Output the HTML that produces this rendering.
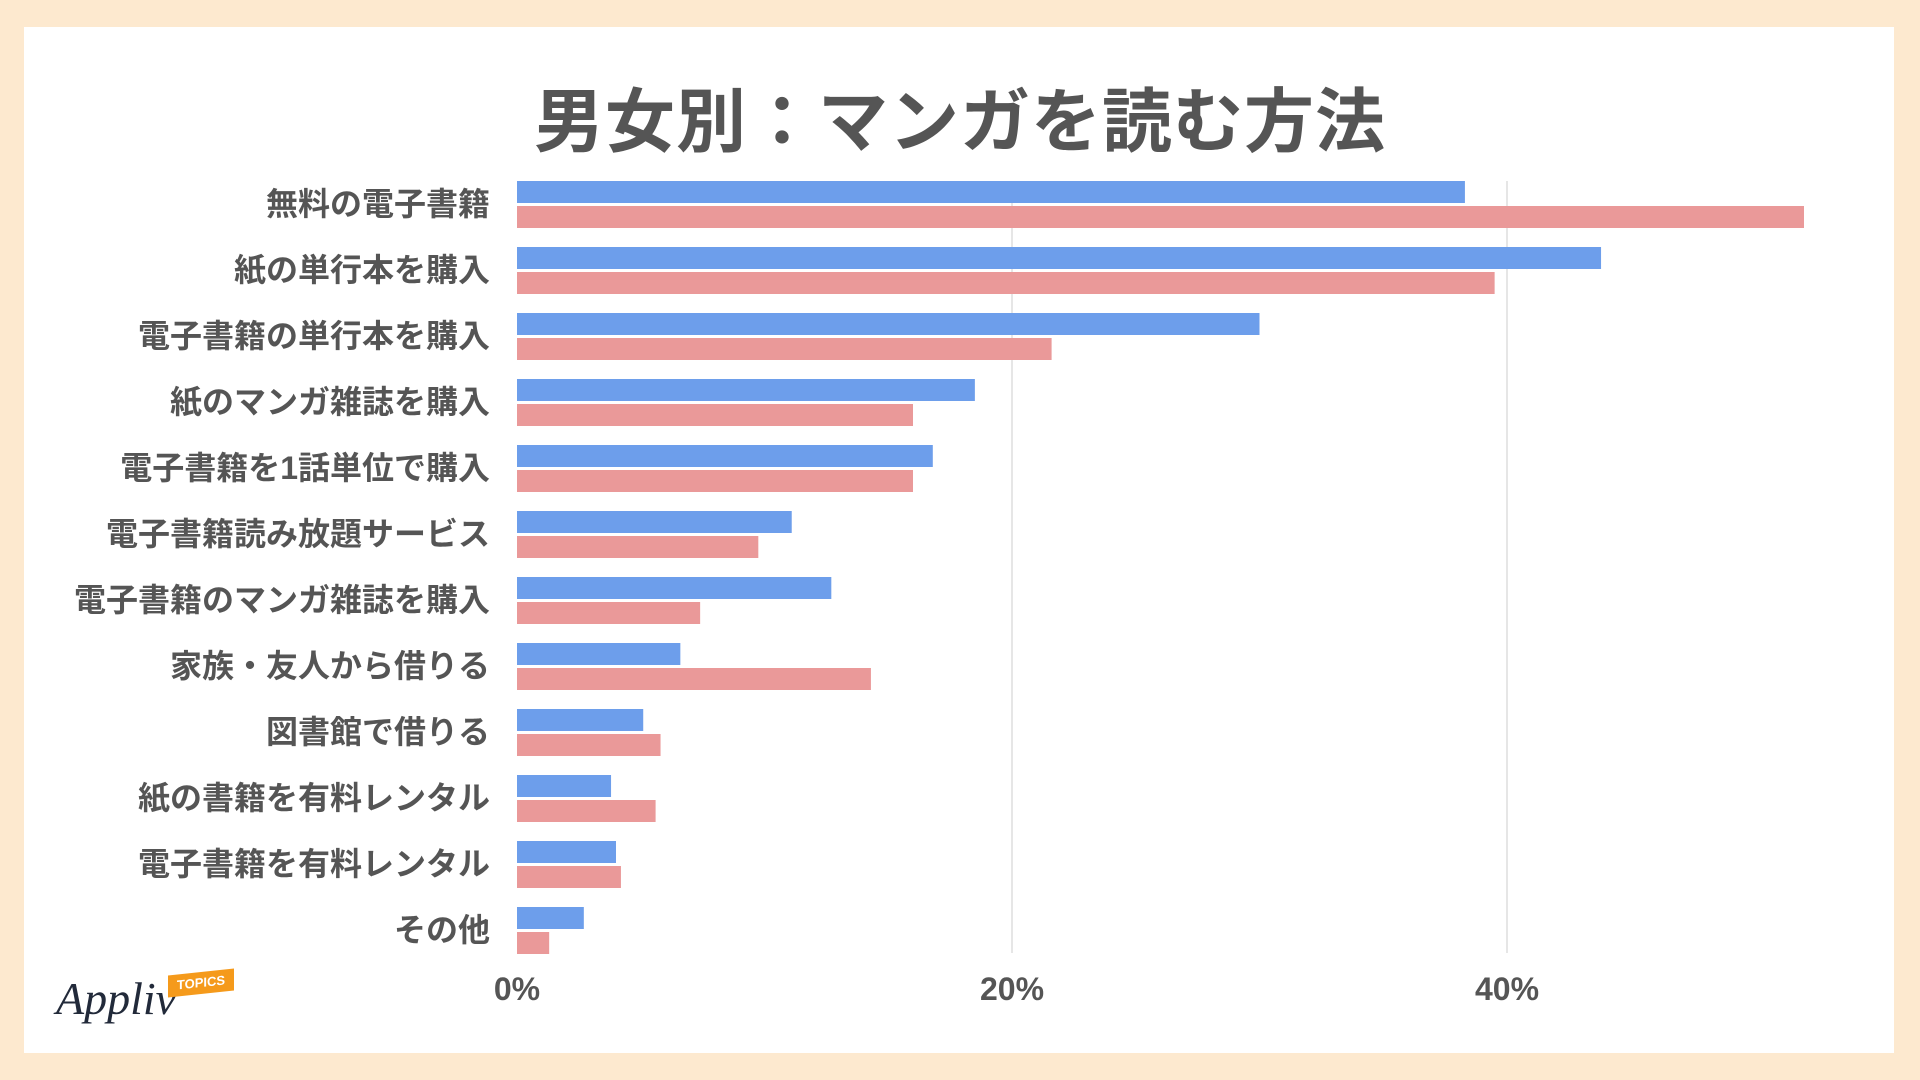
<!DOCTYPE html>
<html><head><meta charset="utf-8">
<style>
html,body{margin:0;padding:0;}
body{width:1920px;height:1080px;background:#fde9cf;position:relative;overflow:hidden;font-family:"Liberation Sans","Noto Sans CJK JP",sans-serif;}
#card{position:absolute;left:24px;top:27px;width:1870px;height:1026px;background:#fff;}
#title{position:absolute;left:0;width:1920px;top:82px;text-align:center;font-size:70px;font-weight:bold;color:#555;letter-spacing:1px;line-height:80px;}
</style></head>
<body>
<div id="card"></div>
<div id="title">男女別：マンガを読む方法</div>
<svg id="chart" width="1920" height="1080" style="position:absolute;left:0;top:0"></svg>
<div style="position:absolute;left:56px;top:972px;font-family:'Liberation Serif',serif;font-style:italic;font-size:46px;color:#222a3a;">Appliv</div>
<div style="position:absolute;left:168px;top:972px;width:66px;height:22px;background:#f59a1b;color:#fff;font-size:13px;font-weight:bold;text-align:center;line-height:22px;transform:skewY(-6deg);">TOPICS</div>
<script>
const categories=["無料の電子書籍","紙の単行本を購入","電子書籍の単行本を購入","紙のマンガ雑誌を購入","電子書籍を1話単位で購入","電子書籍読み放題サービス","電子書籍のマンガ雑誌を購入","家族・友人から借りる","図書館で借りる","紙の書籍を有料レンタル","電子書籍を有料レンタル","その他"];
const maleValues=[38.3,43.8,30.0,18.5,16.8,11.1,12.7,6.6,5.1,3.8,4.0,2.7];
const femaleValues=[52.0,39.5,21.6,16.0,16.0,9.75,7.4,14.3,5.8,5.6,4.2,1.3];
const tickValues=[0,20,40];
const tickLabels=["0%","20%","40%"];
const svg=document.getElementById('chart');
const NS='http://www.w3.org/2000/svg';
const x0=517,pxPer=24.75,top0=181,pitch=66,barH=22;
const xs=v=>x0+v*pxPer;
const ys=i=>top0+i*pitch;
function mk(t,a){const e=document.createElementNS(NS,t);for(const k in a)e.setAttribute(k,a[k]);svg.appendChild(e);return e;}
tickValues.forEach((v,i)=>{
  if(v>0){const g=mk('line',{x1:xs(v),x2:xs(v),y1:181,y2:953,stroke:'#dddddd','stroke-width':1.5});
  
  }
  const t=mk('text',{x:xs(v),y:1000,'text-anchor':'middle','font-size':32,'font-weight':'bold',fill:'#555'});
  t.textContent=tickLabels[i];
  
  
});
categories.forEach((c,i)=>{
  const y=ys(i);
  const b=mk('rect',{x:x0,y:y,width:xs(maleValues[i])-x0,height:barH,fill:'#6d9eeb'});
  
  
  const p=mk('rect',{x:x0,y:y+barH+3,width:xs(femaleValues[i])-x0,height:barH,fill:'#ea9999'});
  
  
  const t=mk('text',{x:490,y:y+barH+12,'text-anchor':'end','font-size':32,'font-weight':'bold',fill:'#555'});
  t.textContent=c;
  
  
});
</script>
</body></html>
